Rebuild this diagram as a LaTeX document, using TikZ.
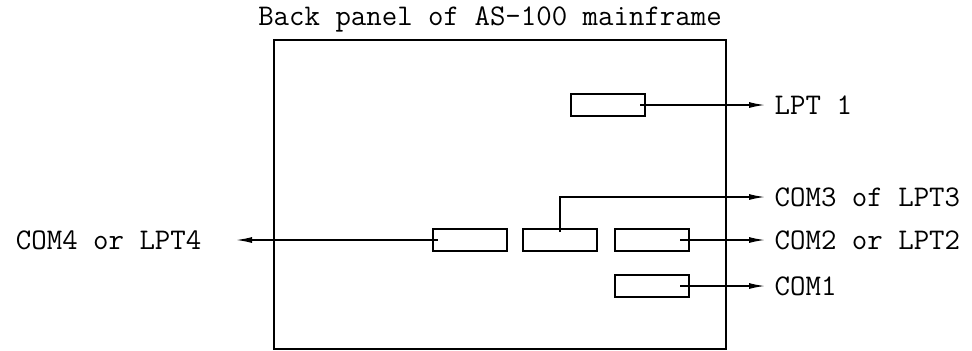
\documentclass[tikz,border=0pt]{standalone}
\usetikzlibrary{arrows.meta}

\begin{document}
\begin{tikzpicture}[x=0.5pt, y=-0.5pt, line width=0.7pt,
    every node/.style={font=\ttfamily\fontsize{15}{17}\selectfont},
    port/.style={rectangle, draw, line width=1pt, minimum width=37pt, minimum height=11pt, inner sep=0pt},
    lbl/.style={inner sep=0pt},
    wire/.style={-{Latex[length=8pt,width=3pt]}, shorten >=4.5pt}]
    \useasboundingbox (0,0) rectangle (972,350);
    \node[lbl, anchor=base] at (490,25) (title) {Back panel of AS-100 mainframe};
    \draw[line width=0.9pt] (274,40) rectangle (726,349);

    \node[port] at (608,105) (lpt1) {};
    \node[port] at (470,240) (com4) {};
    \node[port] at (560,240) (com3) {};
    \node[port] at (652,240) (com2) {};
    \node[port] at (652,286) (com1) {};

    \node[lbl, anchor=west] at (774,105) (lptlbl) {LPT 1};
    \node[lbl, anchor=west] at (774,197) (com3lbl) {COM3 of LPT3};
    \node[lbl, anchor=west] at (774,240) (com2lbl) {COM2 or LPT2};
    \node[lbl, anchor=west] at (774,286) (com1lbl) {COM1};
    \node[lbl, anchor=east] at (202,240) (com4lbl) {COM4 or LPT4};

    \draw[wire] ([xshift=-3pt]lpt1.east) -- (lptlbl.west);
    \draw[wire] ([yshift=-2pt]com3.north) |- (com3lbl.west);
    \draw[wire] ([xshift=-5pt]com2.east) -- (com2lbl.west);
    \draw[wire] ([xshift=-5pt]com1.east) -- (com1lbl.west);
    \draw[wire, shorten >=17pt] ([xshift=3pt]com4.west) -- (com4lbl.east);
\end{tikzpicture}
\end{document}
